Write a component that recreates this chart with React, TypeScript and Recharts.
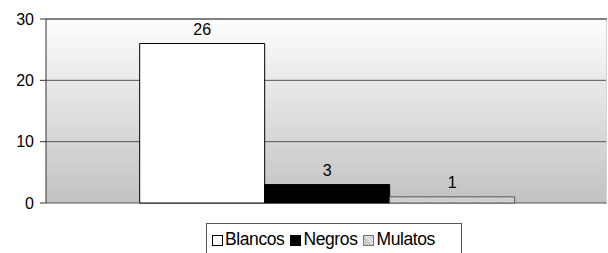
import { BarChart, Bar, XAxis, YAxis, CartesianGrid, LabelList, ReferenceLine } from "recharts";

const categories = [""];
const blancos = [26];
const negros = [3];
const mulatos = [1];
const yTicks = [0, 10, 20, 30];
const seriesNames = ["Blancos", "Negros", "Mulatos"];

const chartData = categories.map((name, i) => ({
  name,
  Blancos: blancos[i],
  Negros: negros[i],
  Mulatos: mulatos[i],
}));

const font = "'Liberation Sans', Arial, sans-serif";

function LegendBox() {
  const swatch = (kind: number) => {
    const base: React.CSSProperties = {
      display: "inline-block",
      width: 9,
      height: 9,
      border: "1px solid #000",
      marginRight: 2,
      verticalAlign: "-1px",
    };
    if (kind === 0) return <span style={{ ...base, background: "#fff" }} />;
    if (kind === 1) return <span style={{ ...base, background: "#000" }} />;
    return (
      <span
        style={{
          ...base,
          border: "1px solid #777",
          background: "repeating-linear-gradient(45deg, #bbb 0 1px, #eee 1px 2px)",
        }}
      />
    );
  };
  return (
    <div
      style={{
        position: "absolute",
        left: 206,
        top: 223,
        width: 256,
        height: 32,
        borderLeft: "1px solid #555",
        borderRight: "1px solid #555",
        borderTop: "1px solid #555",
        fontFamily: font,
        fontSize: 17.5,
        color: "#000",
        boxSizing: "border-box",
        paddingLeft: 5,
        paddingTop: 5,
        whiteSpace: "nowrap",
        letterSpacing: "-0.4px",
      }}
    >
      {seriesNames.map((n, i) => (
        <span key={n} style={{ marginRight: 6 }}>
          {swatch(i)}
          {n}
        </span>
      ))}
    </div>
  );
}

export default function App() {
  return (
    <div style={{ position: "absolute", left: 0, top: 0, width: 608, height: 253, background: "#fff" }}>
      <BarChart
        width={608}
        height={253}
        data={chartData}
        margin={{ top: 19, right: 1, left: 0, bottom: 50 }}
        barCategoryGap="16.7%"
        barGap={0}
      >
        <defs>
          <linearGradient id="bg" x1="0" y1="0" x2="0" y2="1">
            <stop offset="0%" stopColor="#fdfdfd" />
            <stop offset="100%" stopColor="#c2c2c2" />
          </linearGradient>
          <pattern id="dots" width="3" height="3" patternUnits="userSpaceOnUse">
            <rect width="3" height="3" fill="#c8c8c8" />
            <rect width="1" height="1" fill="#f2f2f2" />
            <rect x="1.5" y="1.5" width="1" height="1" fill="#e6e6e6" />
          </pattern>
        </defs>
        <CartesianGrid vertical={false} fill="url(#bg)" stroke="#555" strokeWidth={1} />
        <CartesianGrid
          horizontal={false}
          stroke="#d4d4d4"
          verticalCoordinatesGenerator={({ offset }: any) => [offset.left + offset.width - 0.5]}
        />
        <ReferenceLine y={30} stroke="#808080" strokeWidth={2} />
        <XAxis dataKey="name" tick={false} tickLine={false} height={0} axisLine={{ stroke: "#333", strokeWidth: 1.5 }} />
        <YAxis
          width={46}
          domain={[0, 30]}
          ticks={yTicks}
          interval={0}
          tickSize={6}
          tickMargin={6}
          axisLine={{ stroke: "#333" }}
          tickLine={{ stroke: "#333" }}
          tick={{ fill: "#000", fontSize: 16, fontFamily: font }}
        />
        <Bar dataKey="Blancos" fill="#fff" stroke="#000" strokeWidth={1} isAnimationActive={false}>
          <LabelList dataKey="Blancos" position="top" offset={9} fill="#000" fontSize={16} fontFamily={font} />
        </Bar>
        <Bar dataKey="Negros" fill="#000" stroke="#000" strokeWidth={1} isAnimationActive={false}>
          <LabelList dataKey="Negros" position="top" offset={9} fill="#000" fontSize={16} fontFamily={font} />
        </Bar>
        <Bar dataKey="Mulatos" fill="url(#dots)" stroke="#555" strokeWidth={1} isAnimationActive={false}>
          <LabelList dataKey="Mulatos" position="top" offset={9} fill="#000" fontSize={16} fontFamily={font} />
        </Bar>
      </BarChart>
      <LegendBox />
    </div>
  );
}
